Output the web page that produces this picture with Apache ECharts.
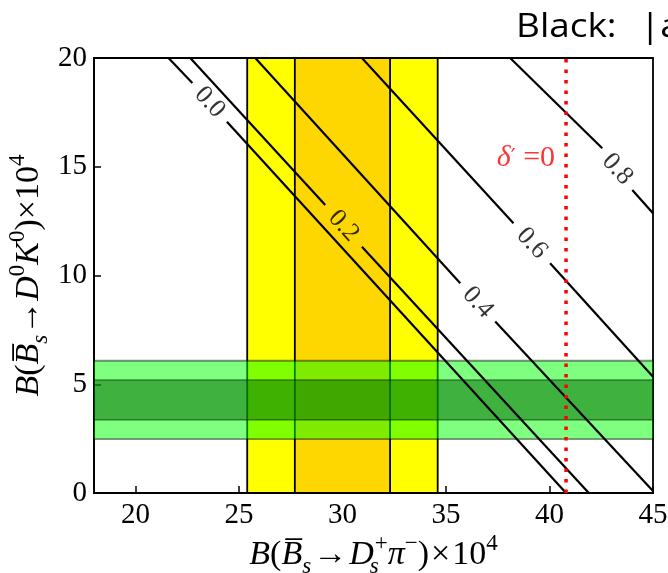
<!DOCTYPE html>
<html>
<head>
<meta charset="utf-8">
<script src="https://cdn.jsdelivr.net/npm/echarts@6/dist/echarts.min.js"></script>
<style>
  html, body { margin: 0; padding: 0; background: #fff; }
  #chart { width: 668px; height: 573px; }
</style>
</head>
<body>
<div id="chart"></div>
<script>
// Branching fractions, both axes in units of 10^-4
const xTicks = [20, 25, 30, 35, 40, 45];
const yTicks = [0, 5, 10, 15, 20];

// B(Bs -> Ds+ pi-): 1 sigma and 2 sigma ranges
const dsPiInner = [27.7, 32.3];
const dsPiOuter = [25.4, 34.6];
// B(Bs -> D0 K0): 1 sigma and 2 sigma ranges
const d0kInner = [3.36, 5.20];
const d0kOuter = [2.48, 6.08];

// Contour levels and the two pieces of each contour on either side of its inline label
const contourLevels = ['0.0', '0.2', '0.4', '0.6', '0.8'];
const contourUpper = [
  [[21.60, 20], [22.75, 18.85]],
  [[22.65, 20], [29.17, 13.24]],
  [[25.79, 20], [35.69, 9.64]],
  [[30.94, 20], [38.26, 12.40]],
  [[38.10, 20], [42.55, 15.85]]
];
const contourLower = [
  [[24.42, 17.07], [40.80, 0]],
  [[30.94, 11.32], [41.90, 0]],
  [[37.38, 7.88], [45.00, 0.09]],
  [[40.03, 10.56], [45.00, 5.35]],
  [[44.00, 13.93], [45.00, 12.86]]
];

// Position of the delta' = 0 line
const deltaZeroX = 40.8;
const deltaLabelY = 15.4;

const SERIF = 'Liberation Serif';

const chart = echarts.init(document.getElementById('chart'), null, { renderer: 'canvas' });

// Label anchor: middle of the gap between the two pieces of each contour
const labelPoints = contourLevels.map((lv, i) => {
  const a = contourUpper[i][1], b = contourLower[i][0];
  return { value: [(a[0] + b[0]) / 2, (a[1] + b[1]) / 2], name: lv };
});

const series = [];

// Vertical bands (yellow 2 sigma, gold 1 sigma)
series.push({
  type: 'line', data: [], silent: true, z: 1,
  markArea: {
    silent: true, z: 1,
    data: [
      [{ xAxis: dsPiOuter[0], itemStyle: { color: '#FFFF00', borderColor: '#000', borderWidth: 1.8 } }, { xAxis: dsPiOuter[1] }],
      [{ xAxis: dsPiInner[0], itemStyle: { color: '#FFD700', borderColor: '#000', borderWidth: 1.8 } }, { xAxis: dsPiInner[1] }]
    ]
  }
});

// Horizontal translucent green bands
series.push({
  type: 'line', data: [], silent: true, z: 2,
  markArea: {
    silent: true, z: 2,
    data: [
      [{ yAxis: d0kOuter[0], itemStyle: { color: 'rgba(0,255,0,0.5)', borderColor: 'rgba(0,0,0,0.45)', borderWidth: 1.8 } }, { yAxis: d0kOuter[1] }],
      [{ yAxis: d0kInner[0], itemStyle: { color: 'rgba(0,100,0,0.5)', borderColor: 'rgba(0,0,0,0.35)', borderWidth: 1.8 } }, { yAxis: d0kInner[1] }]
    ]
  }
});

// Contour lines
contourLevels.forEach((lv, i) => {
  [contourUpper[i], contourLower[i]].forEach(seg => {
    series.push({
      type: 'line', data: seg, symbol: 'none', silent: true, z: 5, clip: true,
      lineStyle: { color: '#000', width: 2.2 }
    });
  });
});

// Inline contour labels
series.push({
  type: 'scatter', data: labelPoints, symbolSize: 0, silent: true, z: 6,
  label: {
    show: true, position: 'inside', rotate: -47.6,
    formatter: p => p.name,
    fontFamily: SERIF, fontSize: 26, color: '#000'
  }
});

// delta' = 0 dotted line
series.push({
  type: 'line', data: [[deltaZeroX, 0], [deltaZeroX, 20]], symbol: 'none', silent: true, z: 7,
  lineStyle: { color: '#FF0000', width: 3.5, type: [3.5, 7], cap: 'butt' }
});

series.push({
  type: 'scatter', data: [[deltaZeroX, deltaLabelY]], symbolSize: 0, silent: true, z: 8,
  label: {
    show: true, position: 'left', distance: 11,
    formatter: '{g|δ}{p|\u2032}{t| =0}',
    rich: {
      g: { fontFamily: SERIF, fontStyle: 'italic', fontSize: 30, color: '#FF0000', lineHeight: 32, verticalAlign: 'middle' },
      p: { fontFamily: 'DejaVu Sans', fontSize: 22, color: '#FF0000', lineHeight: 32, verticalAlign: 'middle' },
      t: { fontFamily: SERIF, fontSize: 30, color: '#FF0000', lineHeight: 32, verticalAlign: 'middle' }
    }
  }
});

const nameRich = {
  i: { fontFamily: SERIF, fontStyle: 'italic', fontSize: 34, color: '#000', lineHeight: 46, verticalAlign: 'middle' },
  r: { fontFamily: SERIF, fontSize: 34, color: '#000', lineHeight: 46, verticalAlign: 'middle' },
  a: { fontFamily: SERIF, fontSize: 34, color: '#000', lineHeight: 46, verticalAlign: 'middle', padding: [0, 2, 0, 2] },
  sup: { fontFamily: SERIF, fontSize: 23, color: '#000', lineHeight: 21, verticalAlign: 'top' },
  sub: { fontFamily: SERIF, fontStyle: 'italic', fontSize: 23, color: '#000', lineHeight: 19, verticalAlign: 'bottom' },
  subw: { fontFamily: SERIF, fontStyle: 'italic', fontSize: 23, color: '#000', lineHeight: 19, verticalAlign: 'bottom', width: 1 }
};

const option = {
  backgroundColor: '#fff',
  animation: false,
  textStyle: { fontFamily: SERIF },
  grid: { left: 94, right: 15, top: 58, bottom: 80, show: true, borderColor: '#000', borderWidth: 1.8, containLabel: false, outerBoundsMode: 'none' },
  xAxis: {
    type: 'value', min: 18, max: 45,
    axisLine: { show: true, onZero: false, lineStyle: { color: '#000', width: 1.8 } },
    axisTick: { show: true, inside: true, length: 7, customValues: xTicks, lineStyle: { color: '#000', width: 1.5 } },
    axisLabel: { customValues: xTicks, fontFamily: SERIF, fontSize: 29, color: '#000', margin: 8 },
    splitLine: { show: false },
    name: '{i|B}{r|(}{i|B\u0305}{sub|s}{a|→}{i|D}{subw|s}{sup|+}{i|π}{sup|−}{r|)}{a|×}{r|10}{sup|4}',
    nameLocation: 'middle', nameGap: 39, nameMoveOverlap: false,
    nameTextStyle: { rich: nameRich }
  },
  yAxis: {
    type: 'value', min: 0, max: 20, interval: 5,
    axisLine: { show: true, onZero: false, lineStyle: { color: '#000', width: 1.8 } },
    axisTick: { show: true, inside: true, length: 7, lineStyle: { color: '#000', width: 1.5 } },
    axisLabel: { fontFamily: SERIF, fontSize: 29, color: '#000', margin: 7 },
    splitLine: { show: false },
    name: '{i|B}{r|(}{i|B\u0305}{sub|s}{r|→}{i|D}{sup|0}{i|K}{sup|0}{r|)×10}{sup|4}',
    nameLocation: 'middle', nameGap: 42, nameRotate: 90, nameMoveOverlap: false,
    nameTextStyle: { rich: nameRich }
  },
  graphic: [
    {
      type: 'text', x: 516, y: 10.7, scaleX: 1.12, silent: true,
      style: { text: 'Black:', fontFamily: 'Open Sans', fontSize: 33, fill: '#000', align: 'left', verticalAlign: 'top' }
    },
    {
      type: 'text', x: 640, y: 10.7, scaleX: 1.12, silent: true,
      style: { text: '|a', fontFamily: 'Open Sans', fontSize: 33, fill: '#000', align: 'left', verticalAlign: 'top' }
    }
  ],
  series: series
};

chart.setOption(option);
</script>
</body>
</html>
